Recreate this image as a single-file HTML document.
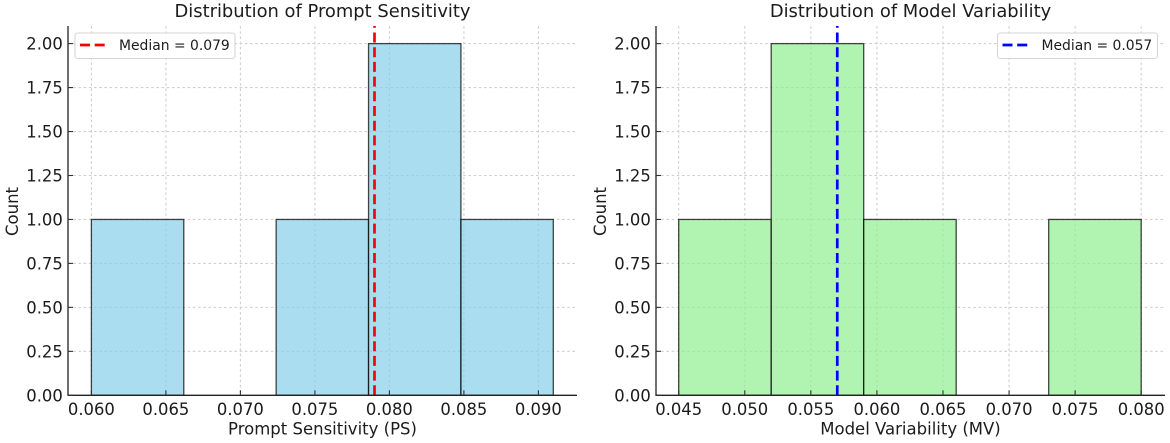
<!DOCTYPE html>
<html lang="en">
<head>
<meta charset="utf-8">
<title>Distribution of Prompt Sensitivity and Model Variability</title>
<style>
html,body{margin:0;padding:0;background:#fff;width:1170px;height:443px;overflow:hidden}
svg{display:block;filter:blur(0.3px)}
text{font-family:"DejaVu Sans","Liberation Sans",sans-serif;fill:#1c1c1c}
</style>
</head>
<body>
<svg id="figure" width="1170" height="443" viewBox="0 0 1170 443" xmlns="http://www.w3.org/2000/svg"></svg>
<script>
const psBinEdges = [0.060, 0.0662, 0.0724, 0.0786, 0.0848, 0.091];
const psCounts = [1, 0, 1, 2, 1];
const psMedian = 0.079;
const psXTicks = [0.060, 0.065, 0.070, 0.075, 0.080, 0.085, 0.090];
const mvBinEdges = [0.045, 0.052, 0.059, 0.066, 0.073, 0.080];
const mvCounts = [1, 2, 1, 0, 1];
const mvMedian = 0.057;
const mvXTicks = [0.045, 0.050, 0.055, 0.060, 0.065, 0.070, 0.075, 0.080];
const yTicks = [0, 0.25, 0.5, 0.75, 1, 1.25, 1.5, 1.75, 2];

const svg = document.getElementById('figure');
const NS = 'http://www.w3.org/2000/svg';
function make(tag, attrs, parent, text) {
  const el = document.createElementNS(NS, tag);
  for (const k in attrs) el.setAttribute(k, attrs[k]);
  if (text !== undefined) el.textContent = text;
  parent.appendChild(el);
  return el;
}
const yBase = 395.3;
const yTopVal = 43.6;
const yScale = v => yBase - v * (yBase - yTopVal) / 2;
const plotTop = 26;

function drawPanel(cfg) {
  const x = v => cfg.x0 + (v - cfg.v0) * cfg.pxPerUnit;
  const g = make('g', {}, svg);
  
  

  cfg.xTicks.forEach(t => {
    const line = make('line', {x1: x(t), x2: x(t), y1: plotTop, y2: yBase, stroke: '#cfcfcf', 'stroke-width': 1.1, 'stroke-dasharray': '2.6 2.6'}, g);
    
    
  });
  yTicks.forEach(t => {
    if (t === 0) return;
    const line = make('line', {x1: cfg.left, x2: cfg.right, y1: yScale(t), y2: yScale(t), stroke: '#cfcfcf', 'stroke-width': 1.1, 'stroke-dasharray': '2.6 2.6'}, g);
    
    
  });

  cfg.counts.forEach((c, i) => {
    if (c === 0) return;
    const x1 = x(cfg.edges[i]);
    const x2 = x(cfg.edges[i + 1]);
    const bar = make('rect', {x: x1, y: yScale(c), width: x2 - x1, height: yBase - yScale(c), fill: cfg.fill, 'fill-opacity': 0.7, stroke: '#000', 'stroke-opacity': 0.72, 'stroke-width': 1.3}, g);
    
    
  });

  const med = make('line', {x1: x(cfg.median), x2: x(cfg.median), y1: yBase, y2: plotTop, stroke: cfg.medianColor, 'stroke-width': 2.7, 'stroke-dasharray': '10 4.7'}, g);
  
  

  const ySpine = make('line', {x1: cfg.left, x2: cfg.left, y1: plotTop, y2: yBase + 0.6, stroke: '#222', 'stroke-width': 1.3}, g);
  
  
  const xSpine = make('line', {x1: cfg.left, x2: cfg.right, y1: yBase, y2: yBase, stroke: '#222', 'stroke-width': 1.3}, g);
  
  

  cfg.xTicks.forEach(t => {
    const tick = make('line', {x1: x(t), x2: x(t), y1: yBase - 5, y2: yBase, stroke: '#333', 'stroke-width': 1.1}, g);
    
    
    const label = make('text', {x: x(t), y: 415, 'text-anchor': 'middle', 'font-size': 16.4}, g, t.toFixed(3));
    
    
  });
  yTicks.forEach(t => {
    const tick = make('line', {x1: cfg.left, x2: cfg.left + 5, y1: yScale(t), y2: yScale(t), stroke: '#333', 'stroke-width': 1.1}, g);
    
    
    const label = make('text', {x: cfg.left - 5.2, y: yScale(t) + 6, 'text-anchor': 'end', 'font-size': 16.4}, g, t.toFixed(2));
    
    
  });

  const title = make('text', {x: (cfg.left + cfg.right) / 2, y: 17, 'text-anchor': 'middle', 'font-size': 17.9}, g, cfg.title);
  
  
  const xTitle = make('text', {x: (cfg.left + cfg.right) / 2, y: 434.5, 'text-anchor': 'middle', 'font-size': 16.5}, g, cfg.xLabel);
  
  
  const yTitle = make('text', {x: 0, y: 0, 'text-anchor': 'middle', 'font-size': 16.5, transform: 'translate(' + (cfg.left - 50) + ' 211.5) rotate(-90)'}, g, 'Count');
  
  

  const legend = make('g', {}, g);
  
  
  make('rect', {x: cfg.legendX, y: 33, width: cfg.legendW, height: 25.5, rx: 2.5, fill: '#fff', 'fill-opacity': 0.9, stroke: '#d6d6d6', 'stroke-width': 1.1}, legend);
  const sw = make('line', {x1: cfg.legendX + 5, x2: cfg.legendX + 31, y1: 45, y2: 45, stroke: cfg.medianColor, 'stroke-width': 2.7, 'stroke-dasharray': '10 4.7'}, legend);
  
  
  const lt = make('text', {x: cfg.legendX + 44, y: 50, 'font-size': 13.9, fill: '#333'}, legend, 'Median = ' + cfg.median.toFixed(3));
  
  
}

drawPanel({
  slug: 'prompt-sensitivity', x0: 91.4, v0: 0.060, pxPerUnit: 14900, left: 68, right: 577,
  edges: psBinEdges, counts: psCounts, median: psMedian, xTicks: psXTicks,
  fill: '#87ceeb', medianColor: '#ff0000',
  title: 'Distribution of Prompt Sensitivity', xLabel: 'Prompt Sensitivity (PS)',
  legendX: 75, legendW: 160
});
drawPanel({
  slug: 'model-variability', x0: 678.7, v0: 0.045, pxPerUnit: 13214, left: 656, right: 1165,
  edges: mvBinEdges, counts: mvCounts, median: mvMedian, xTicks: mvXTicks,
  fill: '#90ee90', medianColor: '#0000ff',
  title: 'Distribution of Model Variability', xLabel: 'Model Variability (MV)',
  legendX: 997.5, legendW: 160
});
</script>
</body>
</html>
